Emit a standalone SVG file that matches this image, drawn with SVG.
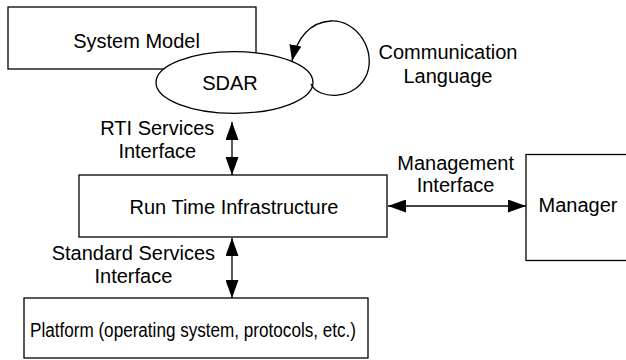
<svg xmlns="http://www.w3.org/2000/svg" width="626" height="360" viewBox="0 0 626 360">
<style>
  .box { fill: #fff; stroke: #000; stroke-width: 1.3; }
  .lbl { font-family: "Liberation Sans", Arial, sans-serif; font-size: 20px; fill: #000; text-anchor: middle; }
  .conn { fill: none; stroke: #000; stroke-width: 1.3; }
</style>
<defs>
  <marker id="arr" viewBox="0 0 18 13" refX="18" refY="6.5" markerWidth="18" markerHeight="13" markerUnits="userSpaceOnUse" orient="auto-start-reverse">
    <path d="M0,0 L18,6.5 L0,13 z" fill="#000"/>
  </marker>
  <marker id="arrs" viewBox="0 0 16 12" refX="16" refY="6" markerWidth="16" markerHeight="12" markerUnits="userSpaceOnUse" orient="auto">
    <path d="M0,0 L16,6 L0,12 z" fill="#000"/>
  </marker>
</defs>
<rect width="626" height="360" fill="#fff"/>
<g id="system-model">
  <rect class="box" x="8" y="7" width="248" height="62"/>
  <text class="lbl" x="136.5" y="48">System Model</text>
</g>
<g id="sdar">
  <ellipse class="box" cx="234.5" cy="82.5" rx="78.5" ry="30.8"/>
  <text class="lbl" x="230" y="89.5">SDAR</text>
</g>
<g id="rti">
  <rect class="box" x="79" y="175" width="308" height="62"/>
  <text class="lbl" x="234" y="214">Run Time Infrastructure</text>
</g>
<g id="manager">
  <rect class="box" x="526" y="154.5" width="110" height="106"/>
  <text class="lbl" x="578" y="211.7">Manager</text>
</g>
<g id="platform">
  <rect class="box" x="24" y="298" width="344" height="60"/>
  <text class="lbl" x="193" y="336.5" textLength="326" lengthAdjust="spacingAndGlyphs">Platform (operating system, protocols, etc.)</text>
</g>
<g id="connectors">
  <path class="conn" d="M 311 84 C 318 100, 356 101, 367 74 C 376 50, 357 20, 331 21 C 310 22, 297 38, 292 61" marker-end="url(#arrs)"/>
  <line class="conn" x1="232" y1="122" x2="232" y2="175" marker-start="url(#arr)" marker-end="url(#arr)"/>
  <line class="conn" x1="232" y1="238" x2="232" y2="298" marker-start="url(#arr)" marker-end="url(#arr)"/>
  <line class="conn" x1="388" y1="206" x2="526" y2="206" marker-start="url(#arr)" marker-end="url(#arr)"/>
</g>
<g id="labels">
  <text class="lbl" x="448" y="58.5">Communication</text>
  <text class="lbl" x="448" y="82.7">Language</text>
  <text class="lbl" x="157.3" y="135">RTI Services</text>
  <text class="lbl" x="157.3" y="158">Interface</text>
  <text class="lbl" x="455.6" y="170">Management</text>
  <text class="lbl" x="455.6" y="191.7">Interface</text>
  <text class="lbl" x="133.4" y="260">Standard Services</text>
  <text class="lbl" x="133.4" y="283.3">Interface</text>
</g>
</svg>
